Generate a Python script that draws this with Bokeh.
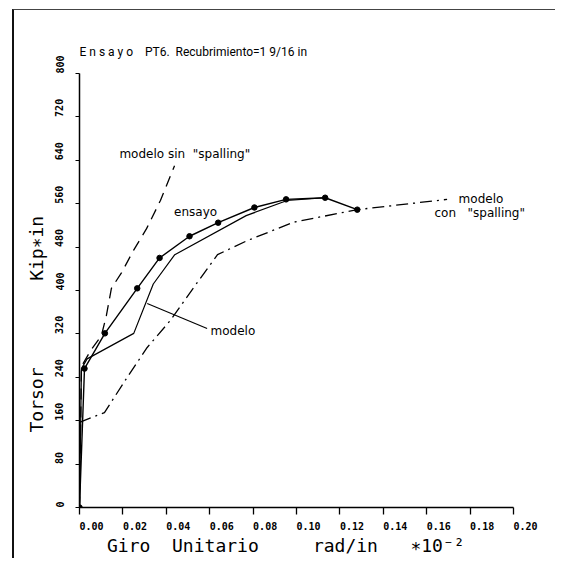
from bokeh.plotting import figure
from bokeh.models import Range1d, FixedTicker, Label
from bokeh.embed import file_html
from bokeh.resources import INLINE

# ---- data (x in rad/in *10^-2, y in Kip*in) ----
ens_x = [0.0, 0.0023, 0.0117, 0.0266, 0.0369, 0.0507, 0.0639, 0.0806, 0.0952, 0.1132, 0.1280]
ens_y = [0, 256, 321, 404, 460, 500, 525, 553, 568, 571, 549]

mod_x = [0.0, 0.0009, 0.0035, 0.0250, 0.0340, 0.0439, 0.0768, 0.0957, 0.1132]
mod_y = [0, 256, 274, 321, 412, 466, 538, 566, 571]

sin_x = [0.0, 0.0009, 0.0051, 0.0101, 0.0124, 0.0147, 0.0194, 0.0249, 0.0309, 0.0373, 0.0438]
sin_y = [0, 260, 289, 317, 354, 404, 433, 474, 514, 566, 630]

con_x = [0.0, 0.0115, 0.0220, 0.0312, 0.0419, 0.0527, 0.0636, 0.0773, 0.0988, 0.1280, 0.1694]
con_y = [157, 175, 240, 295, 345, 406, 466, 492, 526, 549, 568]

leader_x = [0.0312, 0.0588]
leader_y = [376, 330]

x_ticks = [0.0, 0.02, 0.04, 0.06, 0.08, 0.10, 0.12, 0.14, 0.16, 0.18, 0.20]
x_tick_labels = ["0.00", "0.02", "0.04", "0.06", "0.08", "0.10", "0.12", "0.14", "0.16", "0.18", "0.20"]
y_ticks = [0, 80, 160, 240, 320, 400, 480, 560, 640, 720, 800]
y_tick_labels = ["0", "80", "160", "240", "320", "400", "480", "560", "640", "720", "800"]

NB = "\u00a0"
title_text = NB.join("Ensayo") + NB * 4 + "PT6." + NB * 2 + "Recubrimiento=1" + NB + "9/16" + NB + "in"
x_title = "Giro" + NB * 2 + "Unitario" + NB * 5 + "rad/in" + NB * 3 + "\u221710\u207b\u00b2" + NB * 4
y_title = "Torsor" + NB * 8 + "Kip\u2217in" + NB * 10

ann_text = ["ensayo", "modelo sin" + NB * 2 + "\"spalling\"", "modelo", "modelo",
            "con" + NB * 3 + "\"spalling\""]
ann_x = [0.0535, 0.0184, 0.0604, 0.1747, 0.1636]
ann_y = [545, 651, 326, 569, 542]
ann_align = ["center", "left", "left", "left", "left"]

# frame geometry: 434 px for 0..0.20 and for 0..800
FW, FH = 456, 475
x_end = 0.20 * FW / 434
y_end = 800 * FH / 434

p = figure(frame_width=FW, frame_height=FH, output_backend="svg", toolbar_location=None,
           x_range=Range1d(0, x_end), y_range=Range1d(0, y_end),
           min_border_left=65, min_border_top=22, min_border_right=20, min_border_bottom=50)
p.margin = (9, 0, 0, 12)
p.styles = {"border-left": "2px solid #111", "border-top": "1px solid #444"}
p.outline_line_color = None
p.xgrid.visible = False
p.ygrid.visible = False
p.background_fill_color = "white"
p.border_fill_color = "white"

xa = p.xaxis[0]
xa.ticker = FixedTicker(ticks=x_ticks)
xa.bounds = (0, 0.20)
xa.major_label_overrides = {t: NB * 4 + l for t, l in zip(x_ticks, x_tick_labels)}
xa.major_tick_out = 7
xa.major_tick_in = 0
xa.minor_tick_out = 0
xa.minor_tick_in = 0
xa.major_label_standoff = 6
xa.major_label_text_font = "DejaVu Sans Mono"
xa.major_label_text_font_size = "10px"
xa.major_label_text_font_style = "bold"
xa.major_label_text_color = "black"
xa.axis_label = x_title
xa.axis_label_text_font = "DejaVu Sans Mono"
xa.axis_label_text_font_size = "18px"
xa.axis_label_text_font_style = "normal"
xa.axis_label_text_color = "black"
xa.axis_label_standoff = 0
xa.axis_line_width = 1.5
xa.major_tick_line_width = 1.3

ya = p.yaxis[0]
ya.ticker = FixedTicker(ticks=y_ticks)
ya.bounds = (0, 800)
ya.major_label_overrides = {t: NB * len(l) + l for t, l in zip(y_ticks, y_tick_labels)}
ya.major_label_orientation = "vertical"
ya.major_tick_out = 4
ya.major_tick_in = 0
ya.minor_tick_out = 0
ya.minor_tick_in = 0
ya.major_label_standoff = 10
ya.major_label_text_font = "DejaVu Sans Mono"
ya.major_label_text_font_size = "10px"
ya.major_label_text_font_style = "bold"
ya.major_label_text_color = "black"
ya.axis_label = y_title
ya.axis_label_text_font = "DejaVu Sans Mono"
ya.axis_label_text_font_size = "18px"
ya.axis_label_text_font_style = "normal"
ya.axis_label_text_color = "black"
ya.axis_label_standoff = 5
ya.axis_line_width = 1.5

# curves
p.line(ens_x, ens_y, line_color="black", line_width=1.4)
p.scatter(ens_x, ens_y, size=5.5, fill_color="black", line_color="black")
p.line(mod_x, mod_y, line_color="black", line_width=1.2)
p.line(sin_x, sin_y, line_color="black", line_width=1.3, line_dash="11 7")
p.line(con_x, con_y, line_color="black", line_width=1.3, line_dash="12 5 2 5")
p.line(leader_x, leader_y, line_color="black", line_width=1.1)

for t, x, y, a in zip(ann_text, ann_x, ann_y, ann_align):
    p.add_layout(Label(x=x, y=y, text=t, text_align=a, text_baseline="middle",
                       text_font="DejaVu Sans", text_font_size="12px", text_color="black"))

p.add_layout(Label(x=0.0, y=839, text=title_text, text_align="left", text_baseline="middle",
                   text_font="Roboto", text_font_size="12px", text_color="black"))

open("out.html", "w").write(file_html(p, INLINE))
